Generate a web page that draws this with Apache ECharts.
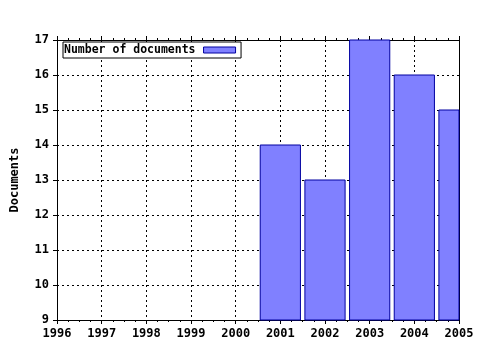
<!DOCTYPE html>
<html>
<head>
<meta charset="utf-8">
<script src="https://cdn.jsdelivr.net/npm/echarts@6/dist/echarts.min.js"></script>
<style>
  html, body { margin: 0; padding: 0; background: #fff; }
  #chart { width: 480px; height: 350px; }
</style>
</head>
<body>
<div id="chart"></div>
<script>
const years = [2001, 2002, 2003, 2004, 2005];
const documents = [14, 13, 17, 16, 15];
const seriesName = 'Number of documents';
const yMin = 9, yMax = 17;
const xMin = 1996, xMax = 2005;

const font = 'DejaVu Sans Mono';
const chart = echarts.init(document.getElementById('chart'));

const xBase = {
  type: 'value',
  min: xMin,
  max: xMax,
  interval: 1,
  splitLine: { show: false },
  axisLine: { onZero: false, lineStyle: { color: '#000', width: 1 } },
  minorTick: { show: true, splitNumber: 4, length: 2, lineStyle: { color: '#000' } },
  axisTick: { length: 4, lineStyle: { color: '#000' } }
};

// bars drawn as a custom series so the 2005 bar gets clipped at the plot edge
function renderBar(params, api) {
  const x = api.value(0);
  const top = api.coord([x, api.value(1)]);
  const bottom = api.coord([x, yMin]);
  const w = api.size([1, 0])[0] * 0.9;
  const cs = params.coordSys;
  const rect = echarts.graphic.clipRectByRect(
    { x: top[0] - w / 2, y: top[1], width: w, height: bottom[1] - top[1] },
    { x: cs.x, y: cs.y, width: cs.width, height: cs.height }
  );
  if (!rect) return;
  return {
    type: 'rect',
    shape: rect,
    style: { fill: '#8080ff', stroke: '#0000a0', lineWidth: 1 }
  };
}

chart.setOption({
  animation: false,
  textStyle: { fontFamily: font },
  grid: { left: 57, right: 21, top: 40, bottom: 30, outerBoundsMode: 'none', containLabel: false },
  legend: {
    left: 63,
    top: 42,
    data: [{ name: seriesName, icon: 'rect' }],
    align: 'right',
    itemWidth: 32,
    itemHeight: 6,
    padding: [2, 5, 2, 1],
    borderColor: '#000',
    borderWidth: 1,
    borderRadius: 0,
    backgroundColor: '#fff',
    itemGap: 0,
    itemStyle: { color: '#8080ff', borderColor: '#0000a0', borderWidth: 1 },
    textStyle: { fontFamily: font, fontSize: 11.5, fontWeight: 'bold', color: '#000', padding: [0, 3, 0, 0] }
  },
  xAxis: [
    Object.assign({}, xBase, {
      position: 'bottom',
      axisLabel: {
        color: '#000', fontSize: 12, fontWeight: 'bold', fontFamily: font, margin: 8,
        formatter: v => String(v)
      },
      splitLine: { show: true, lineStyle: { color: '#000', type: [2, 3], width: 1 } }
    }),
    Object.assign({}, xBase, {
      position: 'top',
      axisLabel: { show: false }
    })
  ],
  yAxis: [
    {
      type: 'value',
      min: yMin,
      max: yMax,
      interval: 1,
      name: 'Documents',
      nameLocation: 'middle',
      nameGap: 36,
      nameRotate: 90,
      nameTextStyle: { color: '#000', fontSize: 12, fontWeight: 'bold', fontFamily: font },
      axisLine: { show: true, lineStyle: { color: '#000' } },
      axisTick: { length: 4, lineStyle: { color: '#000' } },
      axisLabel: { color: '#000', fontSize: 12, fontWeight: 'bold', fontFamily: font, margin: 8 },
      splitLine: { show: true, lineStyle: { color: '#000', type: [2, 3], width: 1 } }
    },
    {
      type: 'value',
      min: yMin,
      max: yMax,
      interval: 1,
      position: 'right',
      axisLine: { show: true, lineStyle: { color: '#000' } },
      axisTick: { show: false },
      axisLabel: { show: false },
      splitLine: { show: false }
    }
  ],
  series: [
    {
      name: seriesName,
      type: 'custom',
      xAxisIndex: 0,
      yAxisIndex: 0,
      renderItem: renderBar,
      encode: { x: 0, y: 1 },
      itemStyle: { color: '#8080ff', borderColor: '#0000a0' },
      data: years.map((y, i) => [y, documents[i]])
    }
  ]
});
</script>
</body>
</html>
